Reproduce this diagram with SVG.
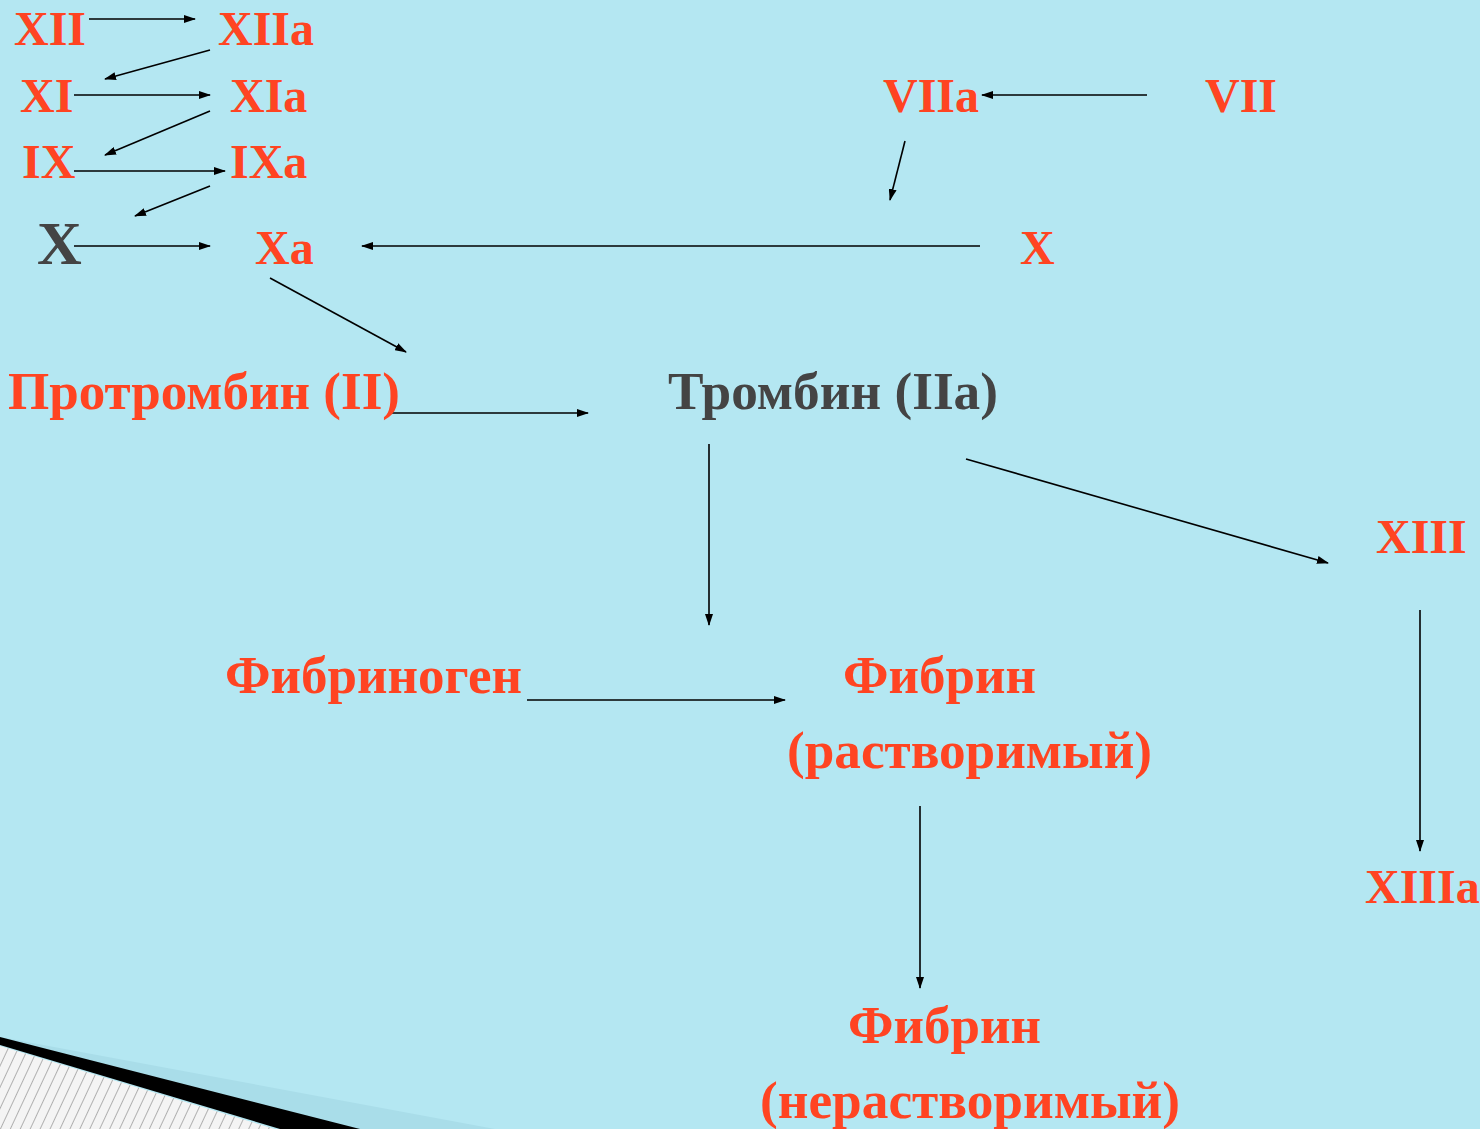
<svg xmlns="http://www.w3.org/2000/svg" width="1480" height="1129" viewBox="0 0 1480 1129">
<defs>
<marker id="ah" markerWidth="12" markerHeight="8" refX="11" refY="4" orient="auto" markerUnits="userSpaceOnUse">
<path d="M0,0 L12,4 L0,8 Z" fill="#000"/>
</marker>
<pattern id="hatch" width="9" height="9" patternUnits="userSpaceOnUse" patternTransform="rotate(25)">
<rect width="9" height="9" fill="#f4f4f4"/>
<line x1="0" y1="0" x2="0" y2="9" stroke="#999" stroke-width="1.5"/>
</pattern>
<style>
.t{font-family:"Liberation Serif","Times New Roman",serif;font-weight:bold;font-size:48px;fill:#FF4422}
.r{font-size:53px}
.g{fill:#444444}
.c line{stroke:#000;stroke-width:1.6;marker-end:url(#ah)}
</style>
</defs>
<rect width="1480" height="1129" fill="#B4E7F2"/>
<g id="decor">
<polygon points="0,1037 495,1129 300,1129" fill="#A9DDE9"/>
<polygon points="0,1046 275,1129 0,1129" fill="url(#hatch)"/>
<polygon points="0,1037 360,1129 280,1129 0,1045" fill="#000"/>
</g>
<g id="connectors" class="c">
<line x1="89" y1="19" x2="195" y2="19"/>
<line x1="210" y1="50" x2="105" y2="79"/>
<line x1="74" y1="95" x2="210" y2="95"/>
<line x1="210" y1="111" x2="105" y2="155"/>
<line x1="74" y1="171" x2="225" y2="171"/>
<line x1="210" y1="186" x2="135" y2="216"/>
<line x1="74" y1="246" x2="210" y2="246"/>
<line x1="980" y1="246" x2="362" y2="246"/>
<line x1="1147" y1="95" x2="982" y2="95"/>
<line x1="905" y1="141" x2="890" y2="200"/>
<line x1="270" y1="278" x2="406" y2="352"/>
<line x1="390" y1="413" x2="588" y2="413"/>
<line x1="709" y1="444" x2="709" y2="625"/>
<line x1="966" y1="459" x2="1328" y2="563"/>
<line x1="1420" y1="610" x2="1420" y2="851"/>
<line x1="527" y1="700" x2="785" y2="700"/>
<line x1="920" y1="806" x2="920" y2="988"/>
</g>
<g id="n-XII"><text class="t" x="14" y="45">XII</text></g>
<g id="n-XIIa"><text class="t" x="218" y="45">XIIa</text></g>
<g id="n-XI"><text class="t" x="20" y="112">XI</text></g>
<g id="n-XIa"><text class="t" x="230" y="112">XIa</text></g>
<g id="n-IX"><text class="t" x="22" y="178">IX</text></g>
<g id="n-IXa"><text class="t" x="230" y="178">IXa</text></g>
<g id="n-X1"><text class="t g" x="37" y="264" style="font-size:62px">X</text></g>
<g id="n-Xa"><text class="t" x="255" y="264">Xa</text></g>
<g id="n-VIIa"><text class="t" x="883" y="112">VIIa</text></g>
<g id="n-VII"><text class="t" x="1205" y="112">VII</text></g>
<g id="n-X2"><text class="t" x="1020" y="264">X</text></g>
<g id="n-prothrombin"><text class="t r" x="8" y="409" textLength="392" lengthAdjust="spacingAndGlyphs">Протромбин (II)</text></g>
<g id="n-thrombin"><text class="t r g" x="668" y="409" textLength="330" lengthAdjust="spacingAndGlyphs">Тромбин (IIa)</text></g>
<g id="n-XIII"><text class="t" x="1376" y="553">XIII</text></g>
<g id="n-fibrinogen"><text class="t r" x="225" y="693" textLength="297" lengthAdjust="spacingAndGlyphs">Фибриноген</text></g>
<g id="n-fibrin-sol"><text class="t r" x="843" y="693" textLength="193" lengthAdjust="spacingAndGlyphs">Фибрин</text><text class="t r" x="787" y="768" textLength="365" lengthAdjust="spacingAndGlyphs">(растворимый)</text></g>
<g id="n-XIIIa"><text class="t" x="1365" y="903">XIIIa</text></g>
<g id="n-fibrin-insol"><text class="t r" x="848" y="1043" textLength="193" lengthAdjust="spacingAndGlyphs">Фибрин</text><text class="t r" x="760" y="1118" textLength="420" lengthAdjust="spacingAndGlyphs">(нерастворимый)</text></g>
</svg>
